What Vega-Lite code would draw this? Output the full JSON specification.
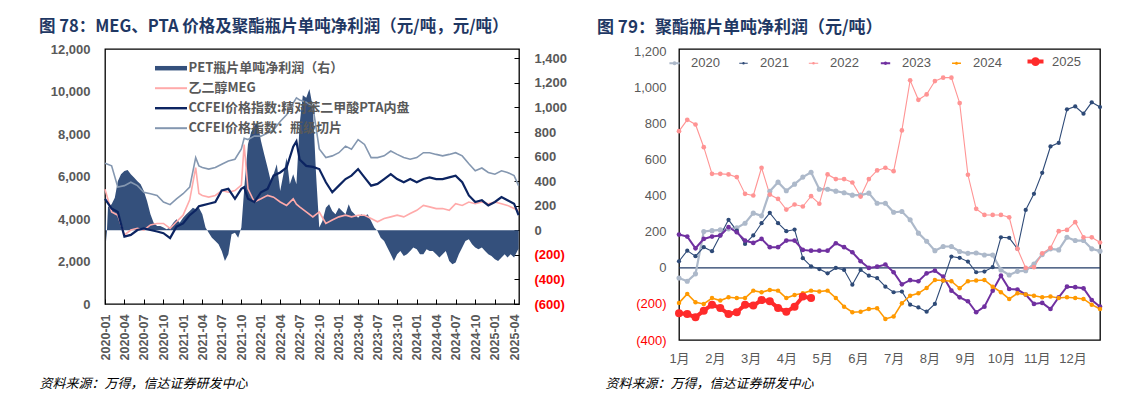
{
  "$schema": "https://vega.github.io/schema/vega-lite/v6.json",
  "background": "#ffffff",
  "padding": {"left": 38, "top": 18, "right": 0, "bottom": 0},
  "columns": 2,
  "align": "none",
  "spacing": 28,
  "config": {
    "view": {"stroke": "#000000", "strokeWidth": 1.3},
    "axis": {"grid": false, "domain": false}
  },
  "resolve": {"scale": {"color": "independent", "strokeWidth": "independent", "size": "independent"}, "legend": {"color": "independent"}},
  "concat": [
    {
      "width": 414,
      "height": 255,
      "title": {"text": "图 78：MEG、PTA 价格及聚酯瓶片单吨净利润（元/吨，元/吨）", "anchor": "start", "frame": "group", "dx": -66, "offset": 7.5, "font": "Noto Sans CJK SC", "fontSize": 16.5, "fontWeight": "bold", "color": "#1F3864"},
      "layer": [
        {
          "data": {"values": [
            {"d":"2020-01-01","p":150},{"d":"2020-01-08","p":-90},{"d":"2020-01-15","p":190},
            {"d":"2020-02-01","p":212},{"d":"2020-02-16","p":266},{"d":"2020-03-01","p":400},{"d":"2020-03-16","p":456},
            {"d":"2020-04-01","p":483},{"d":"2020-04-16","p":490},{"d":"2020-05-01","p":456},{"d":"2020-05-16","p":430},
            {"d":"2020-06-01","p":400},{"d":"2020-06-16","p":375},{"d":"2020-07-01","p":320},{"d":"2020-07-16","p":239},
            {"d":"2020-08-01","p":130},{"d":"2020-08-16","p":62},{"d":"2020-09-01","p":35},{"d":"2020-09-16","p":35},
            {"d":"2020-10-01","p":22},{"d":"2020-10-16","p":8},{"d":"2020-11-01","p":22},{"d":"2020-11-16","p":62},
            {"d":"2020-12-01","p":90},{"d":"2020-12-16","p":62},{"d":"2021-01-01","p":103},{"d":"2021-01-16","p":130},
            {"d":"2021-02-01","p":157},{"d":"2021-02-16","p":184},{"d":"2021-03-01","p":171},{"d":"2021-03-16","p":184},
            {"d":"2021-04-01","p":130},{"d":"2021-04-16","p":22},{"d":"2021-05-01","p":-19},{"d":"2021-05-16","p":-60},
            {"d":"2021-06-01","p":-87},{"d":"2021-06-16","p":-114},{"d":"2021-07-01","p":-168},{"d":"2021-07-16","p":-250},
            {"d":"2021-08-01","p":-195},{"d":"2021-08-16","p":-33},{"d":"2021-09-01","p":-19},{"d":"2021-09-16","p":-60},
            {"d":"2021-10-01","p":22},{"d":"2021-10-16","p":375},{"d":"2021-11-01","p":700},{"d":"2021-11-16","p":800},
            {"d":"2021-12-01","p":850},{"d":"2021-12-16","p":880},{"d":"2022-01-01","p":727},{"d":"2022-01-16","p":619},
            {"d":"2022-02-01","p":510},{"d":"2022-02-16","p":400},{"d":"2022-03-01","p":456},{"d":"2022-03-16","p":537},
            {"d":"2022-04-01","p":320},{"d":"2022-04-16","p":456},{"d":"2022-05-01","p":591},{"d":"2022-05-16","p":375},
            {"d":"2022-06-01","p":456},{"d":"2022-06-16","p":375},{"d":"2022-07-01","p":863},{"d":"2022-07-16","p":1100},
            {"d":"2022-08-01","p":1080},{"d":"2022-08-16","p":1150},{"d":"2022-09-01","p":1000},{"d":"2022-09-16","p":456},
            {"d":"2022-10-01","p":22},{"d":"2022-10-16","p":76},{"d":"2022-11-01","p":184},{"d":"2022-11-16","p":212},
            {"d":"2022-12-01","p":157},{"d":"2022-12-16","p":130},{"d":"2023-01-01","p":184},{"d":"2023-01-16","p":157},
            {"d":"2023-02-01","p":130},{"d":"2023-02-16","p":212},{"d":"2023-03-01","p":157},{"d":"2023-03-16","p":130},
            {"d":"2023-04-01","p":103},{"d":"2023-04-16","p":130},{"d":"2023-05-01","p":117},{"d":"2023-05-16","p":130},
            {"d":"2023-06-01","p":76},{"d":"2023-06-16","p":22},{"d":"2023-07-01","p":-5},{"d":"2023-07-16","p":-60},
            {"d":"2023-08-01","p":-87},{"d":"2023-08-16","p":-141},{"d":"2023-09-01","p":-195},{"d":"2023-09-16","p":-250},
            {"d":"2023-10-01","p":-195},{"d":"2023-10-16","p":-168},{"d":"2023-11-01","p":-209},{"d":"2023-11-16","p":-195},
            {"d":"2023-12-01","p":-168},{"d":"2023-12-16","p":-141},{"d":"2024-01-01","p":-155},{"d":"2024-01-16","p":-195},
            {"d":"2024-02-01","p":-195},{"d":"2024-02-16","p":-155},{"d":"2024-03-01","p":-168},{"d":"2024-03-16","p":-168},
            {"d":"2024-04-01","p":-195},{"d":"2024-04-16","p":-222},{"d":"2024-05-01","p":-195},{"d":"2024-05-16","p":-168},
            {"d":"2024-06-01","p":-250},{"d":"2024-06-16","p":-277},{"d":"2024-07-01","p":-263},{"d":"2024-07-16","p":-195},
            {"d":"2024-08-01","p":-141},{"d":"2024-08-16","p":-87},{"d":"2024-09-01","p":-73},{"d":"2024-09-16","p":-114},
            {"d":"2024-10-01","p":-141},{"d":"2024-10-16","p":-155},{"d":"2024-11-01","p":-141},{"d":"2024-11-16","p":-168},
            {"d":"2024-12-01","p":-195},{"d":"2024-12-16","p":-209},{"d":"2025-01-01","p":-236},{"d":"2025-01-16","p":-250},
            {"d":"2025-02-01","p":-222},{"d":"2025-02-16","p":-195},{"d":"2025-03-01","p":-222},{"d":"2025-03-16","p":-195},
            {"d":"2025-04-01","p":-222},{"d":"2025-04-16","p":-168},{"d":"2025-04-22","p":-150}
          ]},
          "mark": {"type": "area", "color": "#34507C"},
          "encoding": {
            "x": {"field": "d", "type": "temporal",
              "scale": {"type": "utc", "domain": [{"year": 2020, "month": 1, "date": 1, "utc": true}, {"year": 2025, "month": 4, "date": 24, "utc": true}]},
              "axis": {"format": "%Y-%m", "tickCount": {"interval": "month", "step": 3}, "labelAngle": -90,
                "labelFont": "Liberation Sans", "labelFontSize": 12.5, "labelFontWeight": "bold", "labelColor": "#595959",
                "ticks": true, "tickSize": -5, "tickColor": "#000000", "labelPadding": 15, "labelOverlap": false, "labelFlush": false,
                "title": "资料来源：万得，信达证券研发中心", "titleFont": "Noto Sans CJK SC", "titleFontStyle": "italic", "titleFontWeight": "normal",
                "titleFontSize": 13, "titleColor": "#000000", "titleAnchor": "start", "titleAlign": "left", "titleBaseline": "middle", "titleX": -66, "titleY": 79}},
            "y": {"field": "p", "type": "quantitative", "scale": {"domain": [-600, 1476], "nice": false, "zero": false},
              "axis": {"orient": "right", "values": [-600,-400,-200,0,200,400,600,800,1000,1200,1400],
                "labelExpr": "datum.value < 0 ? '(' + format(-datum.value, ',') + ')' : format(datum.value, ',')",
                "labelColor": {"condition": {"test": "datum.value < 0", "value": "#FF0000"}, "value": "#595959"},
                "labelFont": "Liberation Sans", "labelFontSize": 13, "labelFontWeight": "bold", "labelOverlap": false,
                "ticks": true, "tickSize": -5, "tickColor": "#000000", "labelPadding": 20, "title": null}}
          }
        },
        {
          "data": {"values": [
            {"d":"2020-01-01","meg":5400,"pta":4950,"pet":6620},
            {"d":"2020-02-01","meg":4330,"pta":4490,"pet":6500},
            {"d":"2020-03-01","meg":4180,"pta":4330,"pet":5500},
            {"d":"2020-04-01","meg":3250,"pta":3170,"pet":5570},
            {"d":"2020-05-01","meg":3480,"pta":3250,"pet":5730},
            {"d":"2020-06-01","meg":3560,"pta":3480,"pet":5570},
            {"d":"2020-07-01","meg":3480,"pta":3560,"pet":5260},
            {"d":"2020-08-01","meg":3720,"pta":3480,"pet":5190},
            {"d":"2020-09-01","meg":3790,"pta":3410,"pet":5110},
            {"d":"2020-10-01","meg":3790,"pta":3330,"pet":4800},
            {"d":"2020-11-01","meg":3560,"pta":3100,"pet":4675},
            {"d":"2020-12-01","meg":3870,"pta":3640,"pet":4950},
            {"d":"2021-01-01","meg":4180,"pta":3790,"pet":5190},
            {"d":"2021-02-01","meg":4900,"pta":4180,"pet":5500},
            {"d":"2021-03-01","meg":6420,"pta":4410,"pet":6890},
            {"d":"2021-03-16","meg":5200,"pta":4600,"pet":6500},
            {"d":"2021-04-01","meg":5110,"pta":4640,"pet":6420},
            {"d":"2021-05-01","meg":5030,"pta":4720,"pet":6350},
            {"d":"2021-06-01","meg":5110,"pta":4800,"pet":6420},
            {"d":"2021-07-01","meg":5340,"pta":5340,"pet":6580},
            {"d":"2021-08-01","meg":5260,"pta":5420,"pet":6730},
            {"d":"2021-09-01","meg":5340,"pta":4950,"pet":6810},
            {"d":"2021-10-01","meg":5600,"pta":5420,"pet":7300},
            {"d":"2021-10-14","meg":7500,"pta":5500,"pet":7800},
            {"d":"2021-11-01","meg":5420,"pta":4950,"pet":7740},
            {"d":"2021-12-01","meg":4800,"pta":4800,"pet":7900},
            {"d":"2022-01-01","meg":4950,"pta":5260,"pet":7900},
            {"d":"2022-02-01","meg":5110,"pta":5420,"pet":8050},
            {"d":"2022-03-01","meg":5030,"pta":6040,"pet":8200},
            {"d":"2022-04-01","meg":4800,"pta":6190,"pet":8590},
            {"d":"2022-05-01","meg":4640,"pta":6420,"pet":8900},
            {"d":"2022-06-01","meg":4950,"pta":7400,"pet":9450},
            {"d":"2022-06-16","meg":4700,"pta":7650,"pet":9700},
            {"d":"2022-07-01","meg":4570,"pta":6800,"pet":9600},
            {"d":"2022-08-01","meg":4330,"pta":6500,"pet":9500},
            {"d":"2022-09-01","meg":4100,"pta":6450,"pet":9300},
            {"d":"2022-10-01","meg":4330,"pta":6350,"pet":7300},
            {"d":"2022-11-01","meg":3790,"pta":5730,"pet":6890},
            {"d":"2022-12-01","meg":3950,"pta":5260,"pet":6970},
            {"d":"2023-01-01","meg":4100,"pta":5570,"pet":7120},
            {"d":"2023-02-01","meg":4180,"pta":5880,"pet":7430},
            {"d":"2023-03-01","meg":4100,"pta":6040,"pet":7280},
            {"d":"2023-04-01","meg":4180,"pta":6350,"pet":7740},
            {"d":"2023-05-01","meg":4180,"pta":5960,"pet":7510},
            {"d":"2023-06-01","meg":4020,"pta":5570,"pet":6890},
            {"d":"2023-07-01","meg":3870,"pta":5650,"pet":6890},
            {"d":"2023-08-01","meg":4020,"pta":5880,"pet":6970},
            {"d":"2023-09-01","meg":4100,"pta":6110,"pet":7200},
            {"d":"2023-10-01","meg":4180,"pta":5880,"pet":7040},
            {"d":"2023-11-01","meg":4100,"pta":5730,"pet":6890},
            {"d":"2023-12-01","meg":4260,"pta":5880,"pet":6810},
            {"d":"2024-01-01","meg":4410,"pta":5730,"pet":6890},
            {"d":"2024-02-01","meg":4640,"pta":5880,"pet":7120},
            {"d":"2024-03-01","meg":4570,"pta":5960,"pet":7120},
            {"d":"2024-04-01","meg":4490,"pta":5880,"pet":7040},
            {"d":"2024-05-01","meg":4490,"pta":5880,"pet":6970},
            {"d":"2024-06-01","meg":4410,"pta":5960,"pet":7040},
            {"d":"2024-07-01","meg":4720,"pta":6040,"pet":7120},
            {"d":"2024-08-01","meg":4640,"pta":5730,"pet":6970},
            {"d":"2024-09-01","meg":4800,"pta":5110,"pet":6600},
            {"d":"2024-10-01","meg":4720,"pta":4800,"pet":6270},
            {"d":"2024-11-01","meg":4800,"pta":4880,"pet":6400},
            {"d":"2024-12-01","meg":4720,"pta":4640,"pet":6190},
            {"d":"2025-01-01","meg":4800,"pta":4800,"pet":6110},
            {"d":"2025-02-01","meg":4720,"pta":5030,"pet":6270},
            {"d":"2025-03-01","meg":4640,"pta":4880,"pet":6190},
            {"d":"2025-04-01","meg":4490,"pta":4720,"pet":6040},
            {"d":"2025-04-22","meg":4410,"pta":4180,"pet":5570}
          ]},
          "transform": [{"fold": ["meg", "pta", "pet"], "as": ["k", "v"]}],
          "mark": {"type": "line"},
          "encoding": {
            "x": {"field": "d", "type": "temporal"},
            "y": {"field": "v", "type": "quantitative", "scale": {"domain": [0, 12000], "nice": false},
              "axis": {"orient": "left", "values": [0,2000,4000,6000,8000,10000,12000], "labelExpr": "format(datum.value, ',')",
                "labelFont": "Liberation Sans", "labelFontSize": 13, "labelFontWeight": "bold", "labelColor": "#595959", "labelOverlap": false,
                "ticks": false, "labelPadding": 15, "title": null}},
            "color": {"field": "k", "type": "nominal",
              "scale": {"domain": ["profit", "meg", "pta", "pet"], "range": ["#34507C", "#FFAAAA", "#0C2461", "#8497B0"]},
              "legend": {"orient": "none", "legendX": 59.5, "legendY": 12.7, "direction": "vertical", "title": null,
                "labelExpr": "datum.value === 'profit' ? 'PET瓶片单吨净利润（右）' : datum.value === 'meg' ? '乙二醇MEG' : datum.value === 'pta' ? 'CCFEI价格指数:精对苯二甲酸PTA内盘' : 'CCFEI价格指数：瓶级切片'",
                "labelFont": "Noto Sans CJK SC", "labelFontSize": 13, "labelFontWeight": "bold", "labelColor": "#595959", "labelLimit": 400,
                "symbolSize": 256, "labelOffset": 11, "rowPadding": 6, "padding": 0, "symbolType": "stroke",
                "encode": {"symbols": {"update": {
                  "shape": {"signal": "datum.value === 'profit' ? 'M-2,-0.28H2V0.28H-2Z' : 'M-2,0H2'"},
                  "fill": {"signal": "datum.value === 'profit' ? '#34507C' : 'transparent'"},
                  "strokeWidth": {"signal": "datum.value === 'profit' ? 0 : datum.value === 'pta' ? 2.4 : 2"}
                }}}}},
            "strokeWidth": {"field": "k", "type": "nominal", "scale": {"type": "ordinal", "domain": ["meg", "pta", "pet"], "range": [1.6, 2.2, 1.6]}, "legend": null}
          }
        }
      ],
      "resolve": {"scale": {"y": "independent"}}
    },
    {
      "width": 421,
      "height": 291,
      "title": {"text": "图 79：聚酯瓶片单吨净利润（元/吨）", "anchor": "start", "frame": "group", "dx": -82, "offset": 8.5, "font": "Noto Sans CJK SC", "fontSize": 17, "fontWeight": "bold", "color": "#1F3864"},
      "layer": [
        {
          "data": {"values": [{"base": 0}]},
          "mark": {"type": "rule", "color": "#1F3864", "strokeWidth": 1.3},
          "encoding": {"y": {"field": "base", "type": "quantitative", "scale": {"domain": [-400, 1215], "nice": false},
            "axis": {"values": [-400,-200,0,200,400,600,800,1000,1200],
                "labelExpr": "datum.value < 0 ? '(' + format(-datum.value, ',') + ')' : format(datum.value, ',')",
                "labelColor": {"condition": {"test": "datum.value < 0", "value": "#FF0000"}, "value": "#595959"},
                "labelFont": "Liberation Sans", "labelFontSize": 13, "ticks": false, "labelPadding": 13, "labelOverlap": false, "title": null}}}
        },
        {
          "data": {"values": [
            {"w":0,"2020":-56,"2021":37,"2022":759,"2023":185,"2024":-194,"2025":-252},
            {"w":1,"2020":-74,"2021":96,"2022":822,"2023":174,"2024":-144,"2025":-256},
            {"w":2,"2020":-33,"2021":65,"2022":796,"2023":109,"2024":-191,"2025":-274},
            {"w":3,"2020":202,"2021":115,"2022":670,"2023":161,"2024":-200,"2025":-237},
            {"w":4,"2020":207,"2021":93,"2022":522,"2023":174,"2024":-167,"2025":-204},
            {"w":5,"2020":211,"2021":180,"2022":522,"2023":180,"2024":-181,"2025":-222},
            {"w":6,"2020":217,"2021":267,"2022":519,"2023":226,"2024":-163,"2025":-256},
            {"w":7,"2020":222,"2021":207,"2022":504,"2023":198,"2024":-167,"2025":-246},
            {"w":8,"2020":248,"2021":133,"2022":411,"2023":152,"2024":-167,"2025":-204},
            {"w":9,"2020":304,"2021":180,"2022":402,"2023":139,"2024":-126,"2025":-209},
            {"w":10,"2020":289,"2021":248,"2022":556,"2023":161,"2024":-135,"2025":-178},
            {"w":11,"2020":425,"2021":306,"2022":407,"2023":115,"2024":-122,"2025":-185},
            {"w":12,"2020":476,"2021":248,"2022":383,"2023":115,"2024":-126,"2025":-222},
            {"w":13,"2020":428,"2021":204,"2022":324,"2023":152,"2024":-167,"2025":-243},
            {"w":14,"2020":465,"2021":213,"2022":352,"2023":152,"2024":-150,"2025":-215},
            {"w":15,"2020":504,"2021":54,"2022":341,"2023":100,"2024":-141,"2025":-159},
            {"w":16,"2020":531,"2021":9,"2022":398,"2023":96,"2024":-126,"2025":-167},
            {"w":17,"2020":437,"2021":-6,"2022":356,"2023":96,"2024":-131},
            {"w":18,"2020":437,"2021":-30,"2022":519,"2023":96,"2024":-126},
            {"w":19,"2020":426,"2021":0,"2022":493,"2023":137,"2024":-167},
            {"w":20,"2020":417,"2021":-11,"2022":493,"2023":115,"2024":-215},
            {"w":21,"2020":404,"2021":-93,"2022":474,"2023":87,"2024":-246},
            {"w":22,"2020":404,"2021":-11,"2022":396,"2023":37,"2024":-243},
            {"w":23,"2020":415,"2021":-43,"2022":493,"2023":0,"2024":-228},
            {"w":24,"2020":359,"2021":-56,"2022":541,"2023":7,"2024":-224},
            {"w":25,"2020":359,"2021":-104,"2022":556,"2023":19,"2024":-283},
            {"w":26,"2020":309,"2021":-135,"2022":537,"2023":-24,"2024":-270},
            {"w":27,"2020":313,"2021":-131,"2022":763,"2023":-91,"2024":-196},
            {"w":28,"2020":267,"2021":-204,"2022":1041,"2023":-68,"2024":-154},
            {"w":29,"2020":193,"2021":-219,"2022":933,"2023":-74,"2024":-141},
            {"w":30,"2020":148,"2021":-243,"2022":963,"2023":-30,"2024":-111},
            {"w":31,"2020":96,"2021":-200,"2022":1037,"2023":-15,"2024":-67},
            {"w":32,"2020":119,"2021":-70,"2022":1056,"2023":-48,"2024":-70},
            {"w":33,"2020":119,"2021":63,"2022":1056,"2023":-126,"2024":-74},
            {"w":34,"2020":91,"2021":56,"2022":915,"2023":-163,"2024":-113},
            {"w":35,"2020":81,"2021":35,"2022":517,"2023":-185,"2024":-74},
            {"w":36,"2020":83,"2021":-24,"2022":328,"2023":-246,"2024":-70},
            {"w":37,"2020":72,"2021":-20,"2022":294,"2023":-215,"2024":-67},
            {"w":38,"2020":72,"2021":4,"2022":294,"2023":-126,"2024":-104},
            {"w":39,"2020":-11,"2021":170,"2022":294,"2023":-43,"2024":-135},
            {"w":40,"2020":-39,"2021":167,"2022":281,"2023":-117,"2024":-172},
            {"w":41,"2020":-19,"2021":106,"2022":106,"2023":-120,"2024":-141},
            {"w":42,"2020":-15,"2021":322,"2022":0,"2023":-148,"2024":-148},
            {"w":43,"2020":22,"2021":411,"2022":4,"2023":-200,"2024":-154},
            {"w":44,"2020":74,"2021":528,"2022":81,"2023":-194,"2024":-163},
            {"w":45,"2020":106,"2021":674,"2022":111,"2023":-228,"2024":-159},
            {"w":46,"2020":100,"2021":694,"2022":204,"2023":-163,"2024":-167},
            {"w":47,"2020":170,"2021":880,"2022":211,"2023":-104,"2024":-163},
            {"w":48,"2020":152,"2021":896,"2022":254,"2023":-107,"2024":-167},
            {"w":49,"2020":152,"2021":856,"2022":170,"2023":-113,"2024":-172},
            {"w":50,"2020":106,"2021":919,"2022":170,"2023":-178,"2024":-204},
            {"w":51,"2020":93,"2021":893,"2022":141,"2023":-215,"2024":-228}
          ]},
          "transform": [{"fold": ["2020", "2021", "2022", "2023", "2024", "2025"], "as": ["yr", "v"]}],
          "encoding": {
            "x": {"field": "w", "type": "quantitative", "scale": {"domain": [0, 51], "nice": false, "zero": false},
              "axis": {"values": [0, 4.3333, 8.6667, 13, 17.3333, 21.6667, 26, 30.3333, 34.6667, 39, 43.3333, 47.6667],
                "labelExpr": "(round(datum.value / 4.3333) + 1) + '月'", "ticks": false, "labelFont": "Liberation Sans, Noto Sans CJK SC",
                "labelFontSize": 13, "labelColor": "#595959", "labelPadding": 12, "labelFlush": false, "labelOverlap": false,
                "title": "资料来源：万得，信达证券研发中心", "titleFont": "Noto Sans CJK SC", "titleFontStyle": "italic", "titleFontWeight": "normal",
                "titleFontSize": 13, "titleColor": "#000000", "titleAnchor": "start", "titleAlign": "left", "titleBaseline": "middle", "titleX": -74, "titleY": 43}},
            "y": {"field": "v", "type": "quantitative",
              "axis": {"values": [-400,-200,0,200,400,600,800,1000,1200],
                "labelExpr": "datum.value < 0 ? '(' + format(-datum.value, ',') + ')' : format(datum.value, ',')",
                "labelColor": {"condition": {"test": "datum.value < 0", "value": "#FF0000"}, "value": "#595959"},
                "labelFont": "Liberation Sans", "labelFontSize": 13, "ticks": false, "labelPadding": 13, "labelOverlap": false, "title": null}},
            "color": {"field": "yr", "type": "nominal",
              "scale": {"domain": ["2020", "2021", "2022", "2023", "2024", "2025"], "range": ["#ADB9CA", "#2E4A77", "#FF9494", "#7030A0", "#FF9900", "#FF2B2B"]},
              "legend": {"orient": "none", "legendX": -11, "legendY": 6, "direction": "horizontal", "title": null,
                "symbolSize": 196, "labelOffset": 10, "columnPadding": 17, "padding": 0,
                "labelFont": "Liberation Sans", "labelFontSize": 13, "labelColor": "#595959",
                "encode": {"symbols": {"update": {
                  "shape": {"signal": "datum.value === '2025' ? 'M-2,0H2M-0.6,0A0.6,0.6,0,1,1,0.6,0A0.6,0.6,0,1,1,-0.6,0' : 'M-2,0H2M-0.33,0A0.33,0.33,0,1,1,0.33,0A0.33,0.33,0,1,1,-0.33,0'"},
                  "fill": {"signal": "datum.value === '2020' ? '#ADB9CA' : datum.value === '2021' ? '#2E4A77' : datum.value === '2022' ? '#FF9494' : datum.value === '2023' ? '#7030A0' : datum.value === '2024' ? '#FF9900' : '#FF2B2B'"},
                  "stroke": {"signal": "datum.value === '2020' ? '#ADB9CA' : datum.value === '2021' ? '#2E4A77' : datum.value === '2022' ? '#FF9494' : datum.value === '2023' ? '#7030A0' : datum.value === '2024' ? '#FF9900' : '#FF2B2B'"},
                  "strokeWidth": {"signal": "datum.value === '2025' ? 4 : datum.value === '2020' || datum.value === '2023' ? 2 : 1.3"},
                  "opacity": {"value": 1}
                }}}}}
          },
          "layer": [
            {"mark": {"type": "line"},
             "encoding": {"strokeWidth": {"field": "yr", "type": "nominal", "scale": {"type": "ordinal", "domain": ["2020", "2021", "2022", "2023", "2024", "2025"], "range": [2.2, 1.1, 1.1, 2, 1.6, 4]}, "legend": null}}},
            {"mark": {"type": "point", "filled": true, "opacity": 1},
             "encoding": {"size": {"field": "yr", "type": "nominal", "scale": {"type": "ordinal", "domain": ["2020", "2021", "2022", "2023", "2024", "2025"], "range": [26, 18, 22, 22, 20, 64]}, "legend": null}}}
          ]
        }
      ]
    }
  ]
}
